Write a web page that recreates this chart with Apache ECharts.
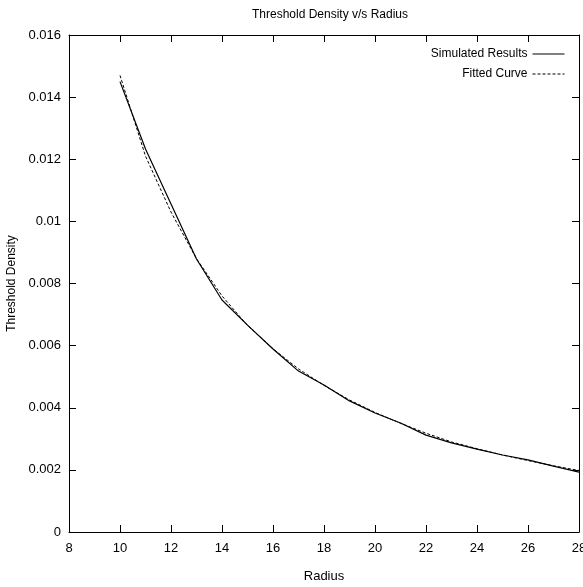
<!DOCTYPE html>
<html>
<head>
<meta charset="utf-8">
<script src="https://cdn.jsdelivr.net/npm/echarts@6/dist/echarts.min.js"></script>
<style>html,body{margin:0;padding:0;background:#fff}#c{width:583px;height:587px}</style>
</head>
<body>
<div id="c"></div>
<script>
const radius = [10, 11, 12, 13, 14, 15, 16, 17, 18, 19, 20, 21, 22, 23, 24, 25, 26, 27, 28];
const simulated = [0.0145, 0.01233, 0.01056, 0.00879, 0.00747, 0.00666, 0.00589, 0.00518, 0.00473, 0.00422, 0.00383, 0.00351, 0.00312, 0.00287, 0.00267, 0.00248, 0.00232, 0.00212, 0.00193];
const fitted = [0.0147, 0.0121, 0.0103, 0.0088, 0.0076, 0.00665, 0.0059, 0.00525, 0.00472, 0.00425, 0.00385, 0.0035, 0.00318, 0.0029, 0.00268, 0.00248, 0.0023, 0.00213, 0.00198];
const titleText = 'Threshold Density v/s Radius';
const xName = 'Radius';
const yName = 'Threshold Density';

const narrow = "'Liberation Sans Narrow', 'Liberation Sans', Arial, sans-serif";
const chart = echarts.init(document.getElementById('c'), null, {renderer: 'canvas'});
const axisCommon = {
  axisLine: {show: true, onZero: false, lineStyle: {color: '#000', width: 1}},
  axisTick: {show: true, inside: true, length: 7, lineStyle: {color: '#000'}},
  splitLine: {show: false}
};
chart.setOption({
  animation: false,
  backgroundColor: '#fff',
  title: {
    text: titleText, left: 325, top: 4, textAlign: 'center',
    textStyle: {fontFamily: narrow, fontSize: 12, fontWeight: 'normal', color: '#000'}
  },
  grid: {left: 69, right: 4, top: 35, bottom: 55, containLabel: false, outerBoundsMode: 'none'},
  legend: {
    orient: 'vertical', right: 13, top: 43, align: 'right', itemGap: 8,
    itemWidth: 32, itemHeight: 10,
    itemStyle: {opacity: 0},
    lineStyle: {width: 1},
    textStyle: {fontFamily: narrow, fontSize: 12, color: '#000'},
    data: ['Simulated Results', 'Fitted Curve']
  },
  xAxis: [
    Object.assign({
      type: 'value', min: 8, max: 28, interval: 2, position: 'bottom',
      name: xName, nameLocation: 'middle', nameGap: 38,
      nameTextStyle: {fontFamily: narrow, fontSize: 13, color: '#000'},
      axisLabel: {fontFamily: narrow, fontSize: 13, color: '#000', margin: 10}
    }, axisCommon),
    Object.assign({
      type: 'value', min: 8, max: 28, interval: 2, position: 'top',
      axisLabel: {show: false}
    }, axisCommon)
  ],
  yAxis: [
    Object.assign({
      type: 'value', min: 0, max: 0.016, interval: 0.002, position: 'left',
      name: yName, nameLocation: 'middle', nameGap: 45, nameRotate: 90,
      nameTextStyle: {fontFamily: "'Liberation Sans', Arial, sans-serif", fontSize: 12, color: '#000'},
      axisLabel: {fontFamily: narrow, fontSize: 13, color: '#000', margin: 8}
    }, axisCommon),
    Object.assign({
      type: 'value', min: 0, max: 0.016, interval: 0.002, position: 'right',
      axisLabel: {show: false}
    }, axisCommon)
  ],
  series: [
    {
      name: 'Simulated Results', type: 'line', symbol: 'none', showSymbol: false,
      data: radius.map((r, i) => [r, simulated[i]]),
      lineStyle: {color: '#000', width: 1.2, type: 'solid'},
      itemStyle: {color: '#000'}, z: 3
    },
    {
      name: 'Fitted Curve', type: 'line', symbol: 'none', showSymbol: false,
      data: radius.map((r, i) => [r, fitted[i]]),
      lineStyle: {color: '#000', width: 1, type: [3, 2]},
      itemStyle: {color: '#000'}, z: 2
    }
  ]
});
</script>
</body>
</html>
